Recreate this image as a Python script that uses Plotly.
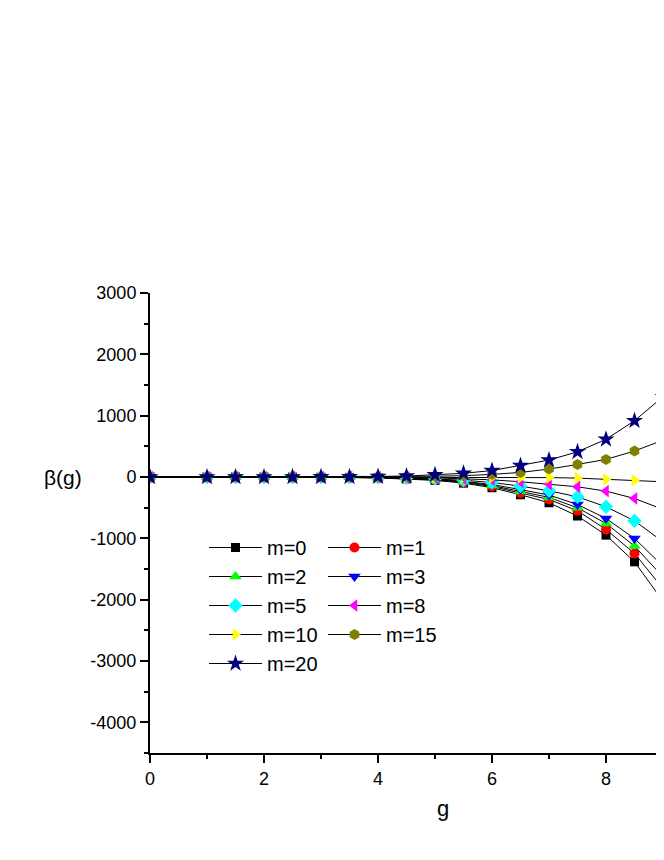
import plotly.graph_objects as go

g_vals = [0, 1, 1.5, 2, 2.5, 3, 3.5, 4, 4.5, 5, 5.5, 6, 6.5, 7, 7.5, 8, 8.5, 9]

beta_m0 = [0, 0, 0, -0.3, -1, -3, -7, -15, -30, -55, -100, -175, -290, -420, -636, -948, -1383, -2025]
beta_m1 = [0, 0, 0, -0.3, -1, -2.5, -6, -13, -26, -48, -88, -155, -262, -366, -551, -855, -1247, -1818]
beta_m2 = [0, 0, 0, -0.2, -0.8, -2, -5, -11, -23, -43, -79, -140, -235, -333, -502, -757, -1127, -1628]
beta_m3 = [0, 0, 0, -0.2, -0.7, -2, -5, -10, -20, -38, -70, -123, -205, -295, -448, -676, -1002, -1454]
beta_m5 = [0, 0, 0, -0.1, -0.5, -1.5, -3.5, -7, -15, -28, -52, -90, -148, -225, -323, -486, -714, -1057]
beta_m8 = [0, 0, 0, 0, -0.2, -0.6, -1.5, -3, -7, -14, -26, -46, -78, -115, -160, -230, -350, -529]
beta_m10 = [0, 0, 0, 0, 0, 0, -0.3, -0.7, -1.5, -3, -4, -5, -7, -10, -18, -38, -51, -78]
beta_m15 = [0, 0, 0, 0, 0.2, 0.6, 1.5, 3, 6, 12, 22, 42, 75, 129, 205, 287, 423, 602]
beta_m20 = [0, 0, 0, 0.1, 0.5, 1.2, 3, 7, 15, 35, 60, 105, 185, 276, 411, 615, 917, 1309]

series_names = ["m=0", "m=1", "m=2", "m=3", "m=5", "m=8", "m=10", "m=15", "m=20"]
series_values = [beta_m0, beta_m1, beta_m2, beta_m3, beta_m5, beta_m8, beta_m10, beta_m15, beta_m20]

y_tickvals = [3000, 2000, 1000, 0, -1000, -2000, -3000, -4000]
y_ticktext = ["3000", "2000", "1000", "0", "-1000", "-2000", "-3000", "-4000"]
x_tickvals = [0, 2, 4, 6, 8]
x_ticktext = ["0", "2", "4", "6", "8"]

styles = [
    ("square", "#000000", 9, "legend"),
    ("circle", "#ff0000", 10, "legend2"),
    ("triangle-up", "#00ff00", 11, "legend"),
    ("triangle-down", "#0000ff", 11, "legend2"),
    ("diamond", "#00ffff", 11, "legend"),
    ("triangle-left", "#ff00ff", 11, "legend2"),
    ("triangle-right", "#ffff00", 11, "legend"),
    ("hexagon", "#808000", 11, "legend2"),
    ("star", "#000080", 13, "legend"),
]

FONT = "Arial, Liberation Sans, sans-serif"

fig = go.Figure()
for name, vals, (sym, col, sz, lg) in zip(series_names, series_values, styles):
    fig.add_trace(go.Scatter(
        x=g_vals, y=vals, name=name, mode="lines+markers",
        line=dict(color="#000000", width=1),
        marker=dict(symbol=sym, color=col, size=sz, line=dict(width=0)),
        legend=lg,
    ))

xrange = [0, 514 / 57.0]

fig.update_layout(
    width=656, height=820,
    margin=dict(l=142, r=0, t=285, b=75),
    paper_bgcolor="white", plot_bgcolor="white",
    font=dict(family=FONT, color="black"),
    xaxis=dict(
        range=xrange, showgrid=False, zeroline=False,
        showline=True, linecolor="black", linewidth=2,
        ticks="outside", ticklen=8, tickwidth=1.5, tickcolor="black",
        tickvals=x_tickvals, ticktext=x_ticktext,
        tickfont=dict(size=18, family=FONT),
        minor=dict(dtick=1, tick0=0, ticks="outside", ticklen=4, tickwidth=1.5, tickcolor="black"),
    ),
    xaxis2=dict(
        range=xrange, overlaying="x", side="top", anchor="y",
        showgrid=False, zeroline=False,
        showline=True, linecolor="black", linewidth=2,
        ticks="inside", ticklen=8, tickwidth=1.5, tickcolor="black",
        tickvals=x_tickvals, showticklabels=False,
        minor=dict(dtick=1, tick0=0, ticks="inside", ticklen=4, tickwidth=1.5, tickcolor="black"),
    ),
    yaxis=dict(
        range=[-4500, 3000], showgrid=False, zeroline=False,
        showline=True, linecolor="black", linewidth=2,
        ticks="outside", ticklen=8, tickwidth=1.5, tickcolor="black",
        tickvals=y_tickvals, ticktext=y_ticktext,
        tickfont=dict(size=18, family=FONT),
        minor=dict(dtick=500, tick0=0, ticks="outside", ticklen=4, tickwidth=1.5, tickcolor="black"),
    ),
    legend=dict(
        x=(204 - 150) / 514, y=(753 - 528) / 460, xanchor="left", yanchor="top",
        bgcolor="rgba(0,0,0,0)", font=dict(size=20, family=FONT),
        itemwidth=53, tracegroupgap=0,
    ),
    legend2=dict(
        x=(323 - 150) / 514, y=(753 - 528) / 460, xanchor="left", yanchor="top",
        bgcolor="rgba(0,0,0,0)", font=dict(size=20, family=FONT),
        itemwidth=53, tracegroupgap=0,
    ),
    annotations=[
        dict(text="g", xref="paper", yref="paper", x=(443 - 150) / 514, y=(753 - 808) / 460,
             xanchor="center", yanchor="middle", showarrow=False, font=dict(size=22, family=FONT)),
        dict(text="β(g)", xref="paper", yref="paper", x=(63 - 150) / 514, y=(753 - 477) / 460,
             xanchor="center", yanchor="middle", showarrow=False, font=dict(size=21, family=FONT)),
    ],
)

fig.write_html("out.html")
